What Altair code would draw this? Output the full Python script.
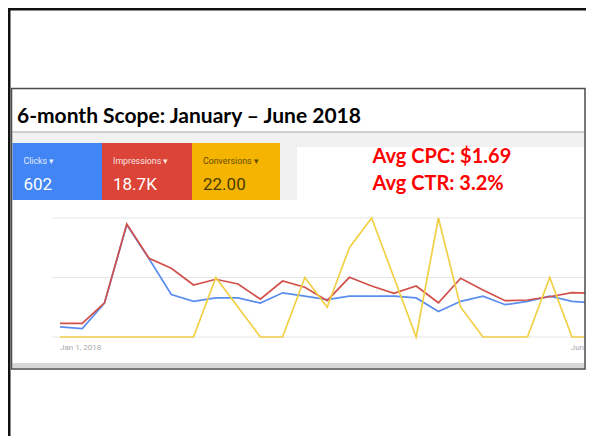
import altair as alt
import pandas as pd

# ---- data ----
weeks = list(range(25))
clicks = [6, 5, 20, 66, 46, 25, 21, 23, 23, 20, 26, 24, 22, 24, 24, 24, 23, 15, 21, 24, 19, 21, 24, 21, 20]
impressions = [207, 207, 518, 1709, 1191, 1040, 787, 873, 802, 571, 847, 752, 549, 903, 771,
               661, 771, 518, 888, 711, 549, 560, 609, 671, 661]
conversions = [0, 0, 0, 0, 0, 0, 0, 2, 1, 0, 0, 2, 1, 3, 4, 2, 0, 4, 1, 0, 0, 0, 2, 0, 0]
gridlines = [0, 2, 4]
date_labels = ["Jan 1, 2018", "Jun 25, 2018"]
date_label_weeks = [0, 25]
metric_names = ["Clicks \u25be", "Impressions \u25be", "Conversions \u25be"]
metric_totals = ["602", "18.7K", "22.00"]
callouts = ["Avg CPC: $1.69", "Avg CTR: 3.2%"]
title_text = "6-month Scope: January \u2013 June 2018"

series = pd.DataFrame({"week": weeks, "clicks": clicks, "impressions": impressions,
                       "conversions": conversions})
grid_df = pd.DataFrame({"g": gridlines})
lab_df = pd.DataFrame({"week": date_label_weeks, "label": date_labels})

W, H = 578, 428
RIGHT = 585  # right edge of the screenshot (page px)


def P(v):
    """page pixel -> chart pixel (page has an 8px margin)"""
    return v - 8


X_RANGE = [P(60), P(60) + 25 * 22.26]
Y_RANGE = [P(337), P(218)]
xs = alt.Scale(domain=[0, 25], range=X_RANGE)

one = pd.DataFrame({"a": [0]})


def box(x1, x2, y1, y2, **kw):
    return alt.Chart(one).mark_rect(**kw).encode(
        x=alt.value(P(x1)), x2=alt.value(P(x2)), y=alt.value(P(y1)), y2=alt.value(P(y2)))


def label(text, x, y, **kw):
    return alt.Chart(one).mark_text(text=text, align="left", baseline="alphabetic", **kw).encode(
        x=alt.value(P(x)), y=alt.value(P(y)))


layers = []
# slide border (left and top)
layers.append(box(8, 10.5, 8, 8 + H, color="#111111"))
layers.append(box(8, 8 + W, 8, 10.5, color="#111111"))
# screenshot background
layers.append(box(11.5, RIGHT, 88.5, 369, color="#f1f1f1"))
layers.append(box(12.5, RIGHT - 1, 89.5, 131, color="#ffffff"))
layers.append(box(12.5, RIGHT - 1, 131, 133, color="#cfcfcf"))
# metric tiles
tile_cols = ["#4285f4", "#db4437", "#f4b400"]
tile_x = [(12.5, 102), (102, 192), (192, 280)]
for (x1, x2), c in zip(tile_x, tile_cols):
    layers.append(box(x1, x2, 143, 200, color=c))
layers.append(box(297, RIGHT - 1, 147, 200, color="#ffffff"))
# chart panel
layers.append(box(12.5, RIGHT - 1, 200, 363, color="#ffffff"))
layers.append(box(12.5, RIGHT - 1, 363, 368, color="#d6d6d6"))

# gridlines
layers.append(alt.Chart(grid_df).mark_rule(color="#e6e6e6", strokeWidth=1).encode(
    x=alt.value(P(52)), x2=alt.value(P(RIGHT - 1)),
    y=alt.Y("g:Q", scale=alt.Scale(domain=[0, 4], range=Y_RANGE), axis=None)))

# series lines
line_specs = [("clicks", [0, 70], "#5b8def"), ("impressions", [0, 1800], "#d2504a"),
              ("conversions", [0, 4], "#f1d045")]
for field, dom, col in line_specs:
    layers.append(alt.Chart(series).mark_line(color=col, strokeWidth=1.7, clip=True).encode(
        x=alt.X("week:Q", scale=xs, axis=None),
        y=alt.Y(f"{field}:Q", scale=alt.Scale(domain=dom, range=Y_RANGE), axis=None)))

# date labels (first left-aligned, last right-aligned)
for idx, al in [(0, "left"), (1, "right")]:
    layers.append(alt.Chart(lab_df.iloc[[idx]]).mark_text(
        font="Roboto", fontSize=8, color="#aaaaaa", baseline="alphabetic", align=al,
        clip=True).encode(
        x=alt.X("week:Q", scale=xs, axis=None),
        y=alt.value(P(350)),
        text="label:N"))

# cover the overflow beyond the screenshot's right edge
layers.append(box(RIGHT, 8 + W, 86, 372, color="#ffffff"))
# screenshot border
layers.append(box(11.5, RIGHT, 88.5, 369, fillOpacity=0, stroke="#4d4d4d", strokeWidth=1.5))

# texts
layers.append(label(title_text, 17, 123, font="Lato", fontSize=21, fontWeight="bold", color="#000000"))
name_cols = ["#ffffff", "#ffffff", "#4a3a00"]
for (x1, x2), nm, tot, tc in zip(tile_x, metric_names, metric_totals, name_cols):
    layers.append(label(nm, x1 + 11, 164, font="Roboto", fontSize=8.8, color=tc, opacity=0.85))
    layers.append(label(tot, x1 + 11, 190, font="Roboto", fontSize=17, color=tc))
for txt, yb in zip(callouts, [163, 190]):
    layers.append(label(txt, 372.5, yb, font="Lato", fontSize=20, fontWeight="bold", color="#ff0000"))

chart = alt.layer(*layers).resolve_scale(y="independent").properties(
    width=W, height=H, autosize=alt.AutoSizeParams(type="none"), padding=0,
    background="#ffffff"
).configure_view(stroke="transparent")

chart.save("out.html", embed_options={"renderer": "svg", "actions": False})
